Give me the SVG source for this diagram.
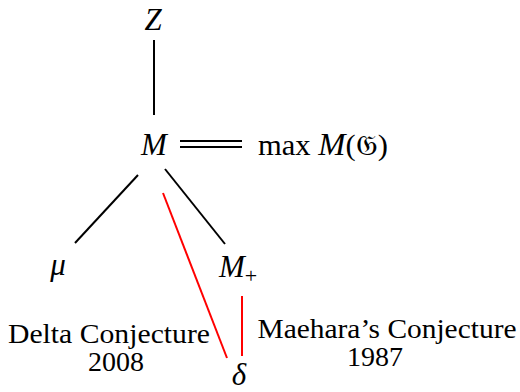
<svg xmlns="http://www.w3.org/2000/svg" width="520" height="392" viewBox="0 0 520 392">
<style>
.m{font-family:"Liberation Serif","DejaVu Serif",serif;font-style:italic;font-size:31px;fill:#000}
.t{font-family:"Liberation Serif","DejaVu Serif",serif;font-size:29px;fill:#000}
.c{font-family:"Liberation Serif","DejaVu Serif",serif;font-size:27px;fill:#000}
.k{stroke:#000;stroke-width:2;fill:none}
.r{stroke:#ff0000;stroke-width:2;fill:none}
</style>
<rect width="520" height="392" fill="#fff"/>
<g id="connectors">
<line class="k" x1="154" y1="40" x2="154" y2="115"/>
<line class="k" x1="180" y1="141" x2="242" y2="141"/>
<line class="k" x1="180" y1="147" x2="242" y2="147"/>
<line class="k" x1="138" y1="175" x2="75" y2="243"/>
<line class="k" x1="165" y1="169" x2="225" y2="244"/>
<line class="r" x1="163" y1="193" x2="227" y2="358"/>
<line class="r" x1="242" y1="296" x2="242" y2="356"/>
</g>
<g id="Z"><text class="m" x="153" y="30" text-anchor="middle">Z</text></g>
<g id="M"><text class="m" x="154" y="155" text-anchor="middle">M</text></g>
<g id="maxM"><text class="t" x="258" y="155" textLength="130" lengthAdjust="spacingAndGlyphs">max <tspan font-style="italic" font-size="31">M</tspan>(𝔊)</text></g>
<g id="mu"><text class="m" x="58" y="275" text-anchor="middle">μ</text></g>
<g id="Mplus"><text class="m" x="219" y="277">M<tspan font-style="normal" font-size="22" dy="6">+</tspan></text></g>
<g id="delta"><text class="m" x="239" y="385" font-size="29" text-anchor="middle">δ</text></g>
<g id="deltaConj">
<text class="c" x="109" y="343" text-anchor="middle" textLength="202" lengthAdjust="spacingAndGlyphs">Delta Conjecture</text>
<text class="c" x="116" y="371" text-anchor="middle" textLength="56" lengthAdjust="spacingAndGlyphs">2008</text>
</g>
<g id="maeharaConj">
<text class="c" x="387" y="338" text-anchor="middle" textLength="259" lengthAdjust="spacingAndGlyphs">Maehara’s Conjecture</text>
<text class="c" x="375" y="366" text-anchor="middle" textLength="56" lengthAdjust="spacingAndGlyphs">1987</text>
</g>
</svg>
